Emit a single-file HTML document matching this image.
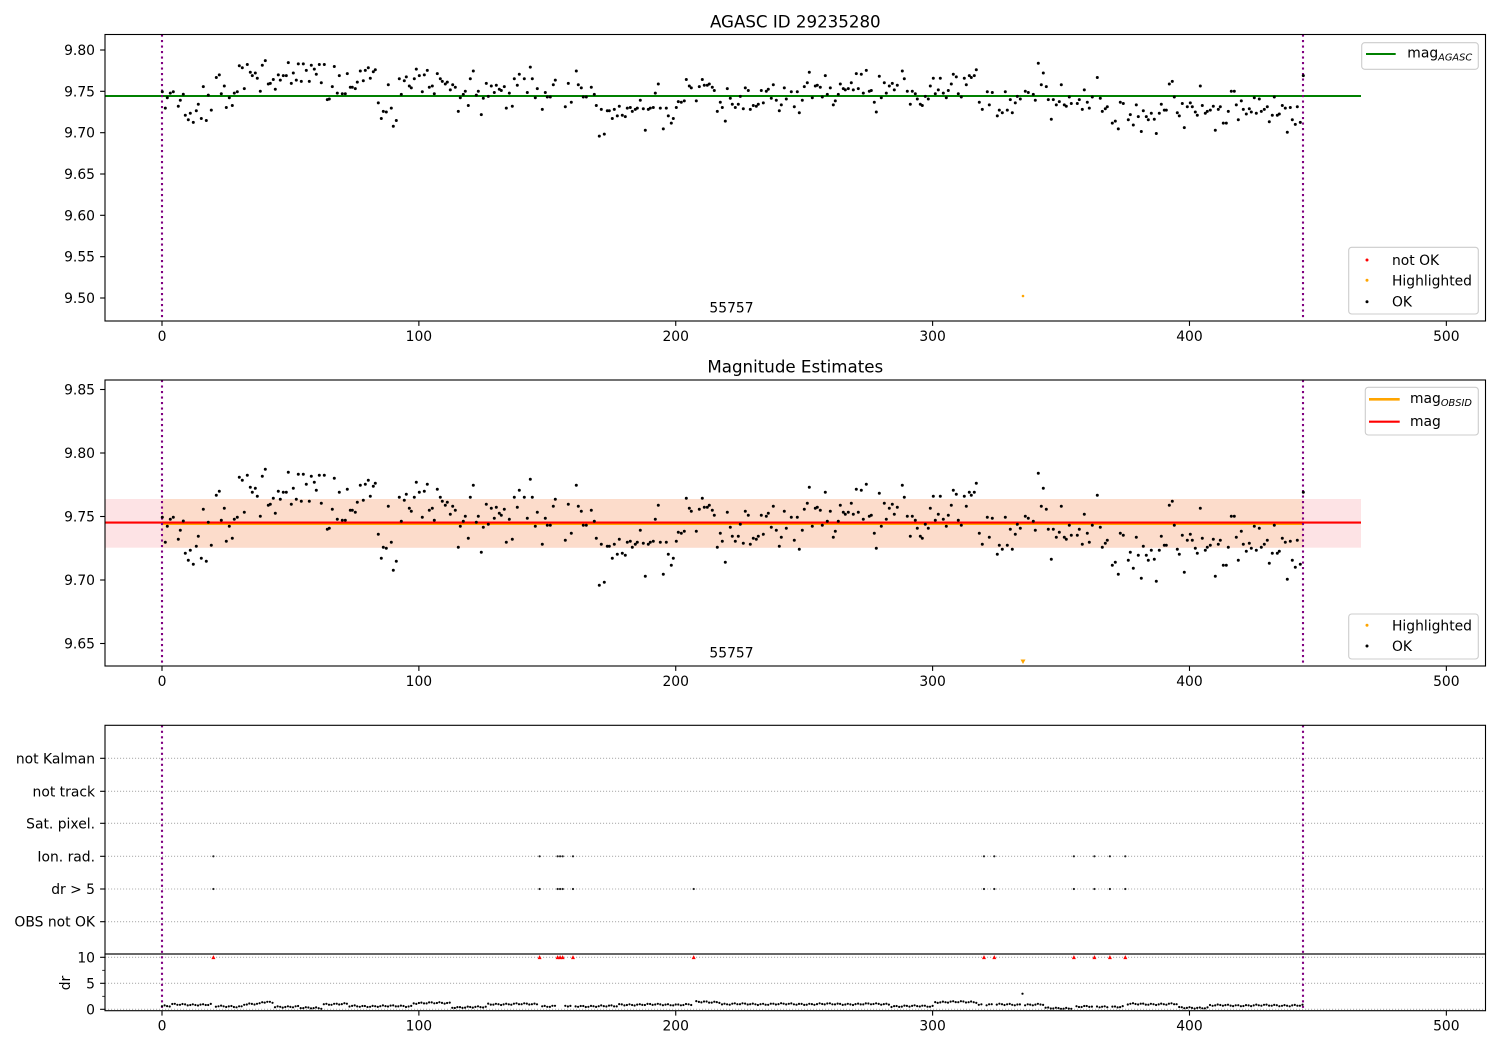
<!DOCTYPE html>
<html><head><meta charset="utf-8">
<style>
html,body{margin:0;padding:0;background:#fff;}
svg{display:block;}
text{font-family:"DejaVu Sans","Liberation Sans",sans-serif;fill:#000;}
</style></head><body>
<svg id="s" width="1500" height="1050" viewBox="0 0 1500 1050" xmlns="http://www.w3.org/2000/svg">
<rect width="1500" height="1050" fill="#fff"/>
<g id="g"></g>
</svg>
<script>
const X0=162, SX=2.5687, L=105, R=1485.5;
let o='';
function line(x1,y1,x2,y2,st,w,da){o+=`<line x1="${x1}" y1="${y1}" x2="${x2}" y2="${y2}" stroke="${st}" stroke-width="${w}"${da?` stroke-dasharray="${da}"`:''}/>`;}
function txt(x,y,s,sz,anc,extra){o+=`<text x="${x}" y="${y}" font-size="${sz}" text-anchor="${anc||'start'}"${extra||''}>${s}</text>`;}
function circ(x,y,r,f){o+=`<circle cx="${x.toFixed(1)}" cy="${y.toFixed(1)}" r="${r}" fill="${f}"/>`;}
function rect(x,y,w,h,f,extra){o+=`<rect x="${x}" y="${y}" width="${w}" height="${h}" fill="${f}"${extra||''}/>`;}
function frame(t,b){rect(L,t,R-L,b-t,'none',' stroke="#000" stroke-width="1.1"');}
function xticks(b){for(let v=0;v<=500;v+=100){const x=X0+SX*v;line(x,b,x,b+4.9,'#000',1.1);txt(x,b+20,String(v),13.89,'middle');}}
function yticks(list){for(const [y,s] of list){line(L,y,L-4.9,y,'#000',1.1);txt(95,y+5,s,13.89,'end');}}
function purple(t,b){line(162,t,162,b,'#800080',2.1,'2.1 3.4');line(1303,t,1303,b,'#800080',2.1,'2.1 3.4');}
function legbox(x,y,w,h){o+=`<rect x="${x}" y="${y}" width="${w}" height="${h}" rx="3" fill="#fff" fill-opacity="0.8" stroke="#ccc" stroke-width="1.1"/>`;}

const Z=[
[155,[22,232,31,307,37,259,46,238,55,232,70,298,76,271,85,243,91,340,100,361,106,331,115,373,124,319,130,289,139,355,145,208,154,364,160,247,169,316,184,166,193,154,199,241,208,205,214,304,223,259,232,295,238,238,247,232,253,112,262,121,268,217,277,106,286,142,292,157,301,145,307,169,316,229,322,109,331,88,340,196,346,193,355,175,361,220,370,154,376,178,385,157,394,157,400,97,409,193,415,145,424,178,430,103,439,184,445,103,454,133,463,184,469,109,478,127,484,151,493,106,499,190,508,106,517,268,523,265,532,208,538,115,547,238,553,157,562,241,571,241,577,148,586,211,592,211,601,217,607,187,616,136,625,181,631,133,640,121,646,169,655,139,661,130,670,283,679,355,685,322,694,325,700,199,709,307,715,391,724,364,733,172,739,244,748,181,754,163,763,205,769,214,778,172,784,127,793,157,802,232,808,154,817,133,823,211,832,205,838,241,847,148,856,172,862,184,871,196,877,187]],
[450,[1,223,8,199,16,211,25,322,31,259,40,244,46,229,55,295,61,172,70,136,79,247,85,229,94,337,100,262,109,193,115,253,124,205,133,235,139,202,148,220,154,226,163,208,169,307,178,238,187,298,193,172,202,202,208,151,223,172,232,235,241,118,247,172,256,259,262,217,277,313,286,235,292,256,301,256,310,199,316,178,346,301,355,193,364,280,379,136,385,199,394,214,400,256,409,256,424,211,433,244,439,295,448,436,454,313,463,427,472,319,478,319,487,355,493,313,502,343,508,298,517,340,526,346,532,307,541,304,547,322,556,313,562,307,571,271,580,310,586,409,595,313,601,307,610,304,616,238,625,196,631,307,640,403,649,307,655,343,664,376,670,355,679,304,685,277,694,280,703,274,709,175,718,205,724,214,739,274,748,208,757,175,763,202,772,202,778,196,787,211,793,226,802,322,811,280,817,304,826,367,832,217,841,262,847,289,856,304,865,289,871,253,880,310]],
[745,[1,214,10,226,16,313,25,295,34,298,40,289,49,226,55,283,64,229,70,220,79,262,85,199,94,271,103,319,109,292,118,214,124,265,139,232,148,301,157,232,163,328,172,271,178,208,187,190,193,142,202,259,211,205,217,202,226,211,232,256,241,157,247,244,256,214,265,292,271,274,280,244,286,196,295,217,301,223,310,217,319,190,325,223,334,148,340,217,349,151,355,238,364,133,373,229,379,226,388,280,394,325,403,160,409,259,418,190,424,238,433,205,442,193,448,223,457,202,472,136,478,172,487,229,496,289,502,229,511,241,517,265,526,289,532,295,541,253,550,265,556,205,565,169,571,241,580,223,586,169,595,238,604,259,610,226,619,196,625,151,634,163,640,241,649,256,658,169,664,199,673,157,679,166,688,157,694,130,703,280,712,313,727,232,733,292,742,235,757,343,763,316,772,328,781,232,787,316,796,268,802,328,811,283,817,253,826,265,841,229,850,235,865,244]],
[1035,[1,271,10,100,19,199,25,145,34,208,40,268,49,358,55,268,64,292,73,277,79,199,88,292,94,298,103,256,109,286,127,286,133,268,142,313,148,223,157,280,163,307,172,256,187,166,196,262,202,322,211,310,217,301,232,376,241,367,250,403,256,280,265,286,280,361,286,337,295,385,304,292,310,346,319,415,325,319,334,346,340,361,349,331,358,358,364,424,373,331,379,289,388,316,394,316,403,196,412,184,418,256,427,328,433,343,442,286,448,397,457,301,466,283,472,301,481,325,487,340,496,205,502,295,511,331,517,322,526,316,535,298,541,409,550,313,556,301,565,376,574,376,580,322,589,229,598,229,604,292,610,361,619,274,625,313,634,334,643,310,649,325,658,259,664,331,673,265,679,322,688,313,697,301,703,370,712,340,718,256,727,340,733,334,742,295,751,307,757,418,766,304,772,361,781,382,787,301,796,373,805,157]]
];
const pts=[];
for(const [x0,a] of Z){for(let i=0;i<a.length;i+=2){pts.push([x0+a[i]/3,440+a[i+1]/3]);}}

/* ---------- Panel 1 ---------- */
const T1=34.5,B1=321;
txt(795.3,27.3,'AGASC ID 29235280',16.67,'middle');
line(105,96,1361,96,'#008000',2.1);
purple(T1,B1);
for(const [x,y2] of pts){circ(x,50+(y2-453)*0.6504,1.5,'#000');}
circ(1023,296,1.3,'#ffa500');
txt(731.5,312.5,'55757',13.89,'middle');
frame(T1,B1);
xticks(B1);
yticks([[50,'9.80'],[91.3,'9.75'],[132.7,'9.70'],[174,'9.65'],[215.3,'9.60'],[256.7,'9.55'],[298,'9.50']]);
legbox(1361.7,42.7,116.6,26.6);
line(1366,54,1395.7,54,'#008000',2.1);
o+=`<text x="1407.3" y="57.6" font-size="13.89">mag<tspan font-size="9.8" font-style="italic" dy="3.1">AGASC</tspan></text>`;
legbox(1348.7,247.3,129.6,66.7);
circ(1367,260,1.5,'#ff0000');circ(1367,280.3,1.5,'#ffa500');circ(1367,301.7,1.5,'#000');
txt(1392,265,'not OK',13.89);txt(1392,285.3,'Highlighted',13.89);txt(1392,306.7,'OK',13.89);

/* ---------- Panel 2 ---------- */
const T2=380,B2=666;
txt(795.3,372.7,'Magnitude Estimates',16.67,'middle');
rect(105,499,1256,48.7,'#fde3e5');
rect(162,499,1141,48.7,'#fcdccb');
line(162,523.9,1303,523.9,'#ffa500',2.1);
line(105,522.6,1361,522.6,'#ff0000',2.1);
purple(T2,B2);
for(const [x,y2] of pts){circ(x,y2,1.5,'#000');}
o+=`<polygon points="1020.5,659.5 1025.5,659.5 1023,664" fill="#ffa500"/>`;
txt(731.5,657.5,'55757',13.89,'middle');
frame(T2,B2);
xticks(B2);
yticks([[389.5,'9.85'],[453,'9.80'],[516.5,'9.75'],[580,'9.70'],[643.5,'9.65']]);
legbox(1365.3,387.3,113,47.7);
line(1369,399.3,1399.7,399.3,'#ffa500',2.6);
o+=`<text x="1410" y="402.8" font-size="13.89">mag<tspan font-size="9.8" font-style="italic" dy="3.1">OBSID</tspan></text>`;
line(1369,421.7,1399.7,421.7,'#ff0000',2.1);
txt(1410,425.8,'mag',13.89);
legbox(1348.7,614,129.6,45);
circ(1367,625.3,1.5,'#ffa500');circ(1367,646,1.5,'#000');
txt(1392,630.3,'Highlighted',13.89);txt(1392,651,'OK',13.89);

/* ---------- Panel 3 ---------- */
const T3=725.3,M3=954,B3=1010.7;
const rows=[[921.7,'OBS not OK'],[889,'dr &gt; 5'],[856.3,'Ion. rad.'],[823.3,'Sat. pixel.'],[791.3,'not track'],[758.3,'not Kalman']];
for(const [y] of rows){line(L,y,R,y,'#b0b0b0',1.1,'1.1 1.9');}
const drY=v=>1009.3-v*5.2;
for(const v of [0,5,10]){line(L,drY(v),R,drY(v),'#b0b0b0',1.1,'1.1 1.9');}
purple(T3,B3);
const flagged=[20,147,154,155,156,160,207,320,324,355,363,369,375];
const ionr=[20,147,154,155,156,160,320,324,355,363,369,375];
for(const i of ionr){circ(X0+SX*i,856.3,1.1,'#222');}
for(const i of flagged){circ(X0+SX*i,889,1.1,'#222');}
for(const i of flagged){const x=X0+SX*i,y=957.3;o+=`<polygon points="${(x-2).toFixed(1)},${y+1.8} ${(x+2).toFixed(1)},${y+1.8} ${x.toFixed(1)},${y-2.2}" fill="#ff0000"/>`;}
const seg=[[162,170,0.6],[170,212,0.9],[212,243,0.55],[243,262,1.0],[262,275,1.35],[275,300,0.5],[300,322,0.25],[322,348,1.0],[348,413,0.6],[413,450,1.2],[450,487,0.4],[487,540,1.0],[540,618,0.6],[618,692,0.9],[692,720,1.4],[720,889,1.0],[889,935,0.6],[935,977,1.4],[977,1045,0.9],[1045,1073,0.2],[1073,1126,0.5],[1126,1179,1.0],[1179,1209,0.3],[1209,1305,0.75]];
for(let i=0;i<=444;i++){
  if(flagged.includes(i))continue;
  const x=X0+SX*i;let v=0.7;
  for(const [a,b,d] of seg){if(x>=a&&x<b){v=d;break;}}
  v+=0.12*Math.sin(i*1.7)+0.06*Math.sin(i*0.37);
  if(i===335)v=3.0;
  if(v<0.1)v=0.1;
  circ(x,drY(v),1.1,'#000');
}
frame(T3,M3);
frame(M3,B3);
for(const [y,s] of rows){line(L,y,L-4.9,y,'#000',1.1);txt(95,y+5,s,13.89,'end');}
for(const v of [0,5,10]){const y=drY(v);line(L,y,L-4.9,y,'#000',1.1);txt(95,y+5,String(v),13.89,'end');}
for(const v of [2.5,7.5]){const y=drY(v);line(L,y,L-2.8,y,'#000',0.8);}
xticks(B3);
o+=`<text x="70" y="983" font-size="13.89" text-anchor="middle" transform="rotate(-90 70 983)">dr</text>`;

document.getElementById('g').innerHTML=o;
</script>
</body></html>
